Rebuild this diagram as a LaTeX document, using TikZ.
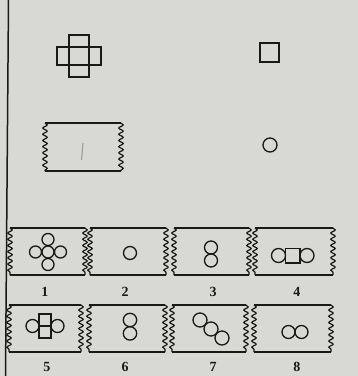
\documentclass[tikz,border=0pt]{standalone}
\usepackage{fontspec}
\setmainfont{Liberation Serif}
\usetikzlibrary{decorations.pathmorphing}
\definecolor{bg}{RGB}{216,216,212}
\definecolor{ink}{RGB}{25,25,25}
\tikzset{
 shp/.style={line width=1.3pt, draw=ink},
 edgeline/.style={line width=2pt, draw=ink},
 wave/.style={line width=1.2pt, draw=ink, decorate, decoration={snake, amplitude=2.2pt, segment length=6.2pt}},
 lbl/.style={font=\fontsize{14}{14}\selectfont\bfseries, inner sep=0pt, text=ink}
}
\newcommand\wbox[4]{%
 \draw[edgeline] (#1,#2) -- (#3,#2);
 \draw[edgeline] (#1,#4) -- (#3,#4);
 \draw[wave] (#1,#2) -- (#1,#4);
 \draw[wave] (#3,#2) -- (#3,#4);
}
\begin{document}
\begin{tikzpicture}[x=1pt,y=-1pt]
\fill[bg] (0,0) rectangle (358,376);
\useasboundingbox (0,0) rectangle (358,376);
% left border
\draw[line width=1.5pt, draw=ink] (8.5,0) -- (5.5,376);
% cross figure
\draw[shp] (69,35) rectangle (89,77);
\draw[shp] (57,47) rectangle (101,65);
% small square
\draw[shp] (260,43) rectangle (279,62);
% question box
\wbox{45}{123}{121}{171}
\draw[line width=1.2pt, gray!75] (83,143) -- (81.5,160);
% small circle
\draw[shp] (270,145) circle[radius=7pt];
% answer row 1
\wbox{10}{228}{85}{275}
\wbox{90}{228}{166}{275}
\wbox{174}{228}{249}{275}
\wbox{255}{228}{333}{275}
% answer row 2
\wbox{9}{305}{81}{352}
\wbox{89}{305}{165}{352}
\wbox{172}{305}{246}{352}
\wbox{254}{305}{331}{352}
% box 1
\foreach \p in {(48,252),(35.5,252),(60.5,252),(48,239.5),(48,264.5)}
  \draw[shp] \p circle[radius=6pt];
% box 2
\draw[shp] (130,253) circle[radius=6.5pt];
% box 3
\draw[shp] (211,247.5) circle[radius=6.5pt];
\draw[shp] (211,260.5) circle[radius=6.5pt];
% box 4
\draw[shp] (278.5,255.5) circle[radius=7pt];
\draw[shp] (285.5,248.5) rectangle (300,263);
\draw[shp] (307,255.5) circle[radius=7pt];
% box 5
\draw[shp] (39,314) rectangle (51,338);
\draw[shp] (39,326) -- (51,326);
\draw[shp] (32.5,326) circle[radius=6.5pt];
\draw[shp] (57.5,326) circle[radius=6.5pt];
% box 6
\draw[shp] (130,320) circle[radius=6.7pt];
\draw[shp] (130,333.4) circle[radius=6.7pt];
% box 7
\draw[shp] (200,320) circle[radius=7pt];
\draw[shp] (211,329) circle[radius=7pt];
\draw[shp] (222,338) circle[radius=7pt];
% box 8
\draw[shp] (288.5,332) circle[radius=6.5pt];
\draw[shp] (301.5,332) circle[radius=6.5pt];
% labels
\node[lbl] (L1) at (45,292) {1};
\node[lbl] (L2) at (125,292) {2};
\node[lbl] (L3) at (213,292) {3};
\node[lbl] (L4) at (297,292) {4};
\node[lbl] (L5) at (47,367) {5};
\node[lbl] (L6) at (125,367) {6};
\node[lbl] (L7) at (213,367) {7};
\node[lbl] (L8) at (297,367) {8};
\end{tikzpicture}
\end{document}
